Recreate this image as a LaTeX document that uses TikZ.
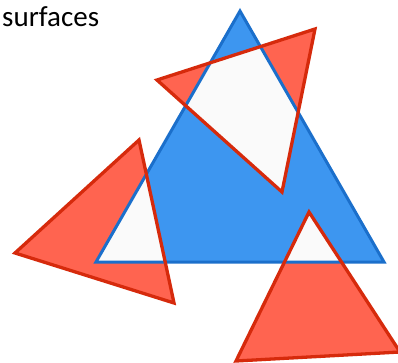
\documentclass[tikz,border=0pt]{standalone}
\usepackage{fontspec}
\setmainfont{Carlito}
\definecolor{bluefill}{HTML}{3D96F0}
\definecolor{bluestroke}{HTML}{1B6FCB}
\definecolor{redfill}{HTML}{FF6450}
\definecolor{redstroke}{HTML}{D62A0C}
\definecolor{holefill}{HTML}{FAFAFA}
\tikzset{
  bluetri/.style={draw=bluestroke, line width=3pt, line join=miter},
  redtri/.style={draw=redstroke, line width=3.3pt, line join=miter},
}
\begin{document}
\begin{tikzpicture}[x=1pt,y=-1pt]
\useasboundingbox (0,0) rectangle (398,363);
% blue triangle
\coordinate (b1) at (240,11);
\coordinate (b2) at (96,262);
\coordinate (b3) at (384,262);
% red triangles
\coordinate (ra1) at (157,80);
\coordinate (ra2) at (315,29);
\coordinate (ra3) at (282,192);
\coordinate (rb1) at (139,140);
\coordinate (rb2) at (15,253);
\coordinate (rb3) at (174,303);
\coordinate (rc1) at (309,212);
\coordinate (rc2) at (236,361);
\coordinate (rc3) at (400,352);
% fills
\fill[bluefill] (b1) -- (b2) -- (b3) -- cycle;
\fill[redfill] (ra1) -- (ra2) -- (ra3) -- cycle;
\fill[redfill] (rb1) -- (rb2) -- (rb3) -- cycle;
\fill[redfill] (rc1) -- (rc2) -- (rc3) -- cycle;
\begin{scope}
  \clip (ra1) -- (ra2) -- (ra3) -- cycle;
  \fill[holefill] (b1) -- (b2) -- (b3) -- cycle;
\end{scope}
\begin{scope}
  \clip (rb1) -- (rb2) -- (rb3) -- cycle;
  \fill[holefill] (b1) -- (b2) -- (b3) -- cycle;
\end{scope}
\begin{scope}
  \clip (rc1) -- (rc2) -- (rc3) -- cycle;
  \fill[holefill] (b1) -- (b2) -- (b3) -- cycle;
\end{scope}
% strokes
\draw[bluetri] (b1) -- (b2) -- (b3) -- cycle;
\draw[redtri] (ra1) -- (ra2) -- (ra3) -- cycle;
\draw[redtri] (rb1) -- (rb2) -- (rb3) -- cycle;
\draw[redtri] (rc1) -- (rc2) -- (rc3) -- cycle;
% label
\node[anchor=base west, inner sep=0pt, font=\fontsize{29}{34}\selectfont] (title) at (2,27) {surfaces};
\end{tikzpicture}
\end{document}
